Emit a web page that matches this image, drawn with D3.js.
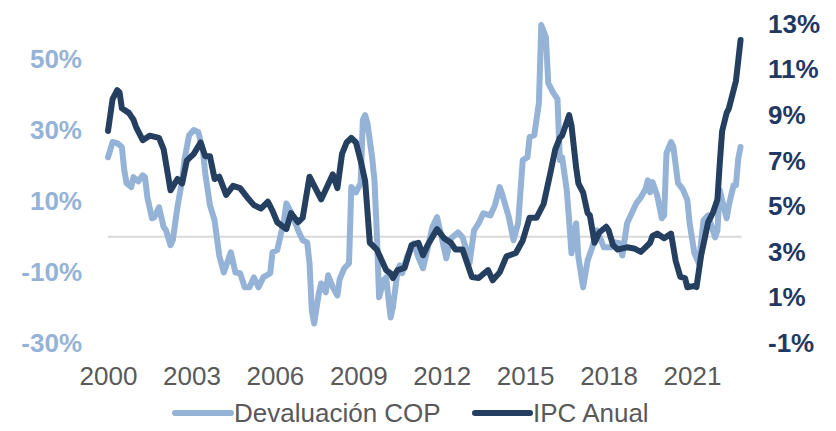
<!DOCTYPE html>
<html>
<head>
<meta charset="utf-8">
<script src="https://cdn.jsdelivr.net/npm/d3@7"></script>
<style>
  html, body { margin: 0; padding: 0; background: #fff; }
  svg { display: block; }
</style>
</head>
<body>
<svg id="chart" width="836" height="431"></svg>
<script>
// ---------- DATA ----------
const seriesNames = ["Devaluación COP", "IPC Anual"];

const devDates = ["2000-01","2000-03","2000-05","2000-07","2000-08","2000-09","2000-11","2000-12","2001-02","2001-04","2001-05","2001-06","2001-08","2001-09","2001-11","2002-01","2002-02","2002-04","2002-05","2002-07","2002-09","2002-10","2002-12","2003-02","2003-04","2003-06","2003-07","2003-09","2003-11","2004-01","2004-03","2004-06","2004-08","2004-10","2004-12","2005-02","2005-04","2005-06","2005-08","2005-11","2005-12","2006-02","2006-05","2006-06","2006-08","2006-11","2007-01","2007-03","2007-04","2007-05","2007-06","2007-08","2007-09","2007-11","2007-12","2008-02","2008-04","2008-05","2008-07","2008-09","2008-10","2008-12","2009-02","2009-03","2009-04","2009-05","2009-07","2009-08","2009-09","2009-10","2009-12","2010-01","2010-03","2010-04","2010-06","2010-07","2010-08","2010-10","2011-01","2011-03","2011-05","2011-07","2011-09","2011-11","2012-01","2012-03","2012-05","2012-08","2012-10","2012-12","2013-01","2013-03","2013-05","2013-07","2013-10","2013-12","2014-02","2014-03","2014-06","2014-08","2014-10","2014-12","2015-02","2015-03","2015-05","2015-07","2015-08","2015-10","2015-11","2016-01","2016-03","2016-04","2016-05","2016-07","2016-08","2016-09","2016-11","2016-12","2017-02","2017-04","2017-06","2017-08","2017-11","2018-02","2018-04","2018-06","2018-07","2018-09","2018-11","2019-01","2019-03","2019-05","2019-06","2019-07","2019-08","2019-10","2019-12","2020-01","2020-02","2020-04","2020-05","2020-07","2020-09","2020-11","2020-12","2021-02","2021-04","2021-06","2021-08","2021-11","2021-12","2022-01","2022-02","2022-04","2022-05","2022-07","2022-08","2022-09","2022-10"];
const devValues = [22.4,26.7,26.4,25.3,18.8,15.1,14.0,16.8,15.6,17.3,16.8,11.1,5.2,5.5,8.3,2.7,1.8,-2.4,-1.0,8.3,15.9,21.6,28.6,30.1,29.5,24.4,17.9,8.9,4.6,-5.3,-10.1,-4.4,-10.1,-10.3,-14.3,-14.3,-11.5,-14.3,-11.5,-10.3,-4.4,-3.8,4.6,9.4,6.9,1.8,-1.0,-1.6,-7.5,-20.8,-24.5,-16.0,-13.2,-15.7,-10.9,-14.3,-16.6,-12.0,-8.9,-7.5,14.0,12.5,15.1,32.9,34.3,32.0,22.4,15.9,1.0,-17.1,-12.3,-11.5,-22.8,-19.9,-9.5,-8.1,-10.3,-5.8,-1.9,-5.8,-8.9,-3.3,2.7,5.5,-0.2,-6.1,-0.5,1.2,-0.2,-4.4,-7.5,1.8,3.8,6.6,6.0,8.9,14.0,12.3,5.5,-1.0,3.8,21.6,22.4,28.1,28.6,37.7,59.7,56.3,43.3,40.8,38.8,21.6,22.4,13.1,4.6,-4.7,3.8,-5.8,-14.3,-6.7,-3.0,1.8,-3.0,-3.0,-1.6,-1.9,-5.3,3.8,6.6,9.4,11.1,13.4,15.9,12.5,15.4,11.7,5.2,6.0,23.6,26.7,25.3,15.1,13.4,10.3,3.8,-4.7,-7.5,4.6,6.0,-0.2,1.8,13.1,10.3,5.2,8.9,14.5,14.5,22.1,25.3];

const ipcDates = ["2000-01","2000-03","2000-05","2000-06","2000-07","2000-10","2000-12","2001-01","2001-04","2001-07","2001-11","2002-01","2002-04","2002-07","2002-09","2002-11","2003-02","2003-05","2003-07","2003-09","2003-11","2004-01","2004-04","2004-07","2004-10","2005-01","2005-04","2005-07","2005-10","2005-12","2006-02","2006-06","2006-08","2006-11","2007-01","2007-04","2007-09","2008-02","2008-04","2008-06","2008-08","2008-10","2008-12","2009-02","2009-04","2009-06","2009-09","2010-01","2010-03","2010-04","2010-06","2010-09","2010-12","2011-03","2011-05","2011-07","2011-11","2012-02","2012-05","2012-07","2012-10","2013-02","2013-05","2013-09","2013-11","2014-02","2014-05","2014-09","2014-12","2015-03","2015-06","2015-09","2015-12","2016-02","2016-04","2016-05","2016-08","2016-09","2016-11","2016-12","2017-02","2017-04","2017-05","2017-07","2017-09","2017-12","2018-01","2018-03","2018-05","2018-07","2018-09","2018-12","2019-03","2019-05","2019-07","2019-08","2019-10","2020-01","2020-04","2020-06","2020-08","2020-10","2020-11","2021-02","2021-03","2021-05","2021-08","2021-10","2021-12","2022-01","2022-02","2022-04","2022-05","2022-08","2022-09","2022-10"];
const ipcValues = [8.3,9.7,10.1,10.0,9.3,9.1,8.8,8.5,7.9,8.1,8.0,7.5,5.7,6.2,6.0,7.0,7.3,7.8,7.2,7.2,6.2,6.3,5.5,5.9,5.8,5.4,5.05,4.9,5.2,4.8,4.3,4.0,4.7,4.3,4.5,6.3,5.3,6.4,5.8,7.3,7.8,8.0,7.8,7.0,6.1,3.4,3.1,2.2,2.05,1.85,2.2,2.3,3.3,3.4,2.85,3.3,4.0,3.6,3.4,3.1,3.1,1.9,1.85,2.2,1.75,2.1,2.8,2.95,3.5,4.5,4.5,5.1,6.5,7.5,8.0,8.1,9.0,8.55,6.7,6.0,5.6,4.7,4.6,3.4,3.85,4.1,3.95,3.3,3.1,3.15,3.2,3.15,3.0,3.2,3.4,3.7,3.8,3.6,3.8,2.6,1.9,1.85,1.45,1.5,1.45,2.85,4.3,4.7,5.3,6.9,8.3,9.1,9.3,10.5,11.4,12.3];

const yearTicks = [2000, 2003, 2006, 2009, 2012, 2015, 2018, 2021];
const leftTicks = [-30, -10, 10, 30, 50];
const rightTicks = [-1, 1, 3, 5, 7, 9, 11, 13];

// ---------- STYLE ----------
const lightColor = "#95b3d7";
const darkColor = "#243f60";
const rightTextColor = "#1f3864";
const grayText = "#595959";
const font = "'Liberation Sans', Arial, sans-serif";

const svg = d3.select("#chart");
const parse = d3.timeParse("%Y-%m");

const dev = devDates.map((d, i) => ({ date: parse(d), value: devValues[i] }));
const ipc = ipcDates.map((d, i) => ({ date: parse(d), value: ipcValues[i] }));

const x = d3.scaleTime()
  .domain([new Date(2000, 0, 1), new Date(2021, 0, 1)])
  .range([108, 692]);
const yL = d3.scaleLinear().domain([-30, 60]).range([343, 24]);
const yR = d3.scaleLinear().domain([-1, 13]).range([343, 24]);

// zero baseline
const lastDate = d3.max(ipc, d => d.date);
svg.append("line")
  .attr("x1", x(new Date(2000, 0, 1))).attr("x2", x(lastDate) + 1)
  .attr("y1", yL(0)).attr("y2", yL(0))
  .attr("stroke", "#d9d9d9").attr("stroke-width", 2);

// lines
const lineL = d3.line().x(d => x(d.date)).y(d => yL(d.value));
const lineR = d3.line().x(d => x(d.date)).y(d => yR(d.value));

svg.append("path").datum(dev)
  .attr("d", lineL).attr("fill", "none")
  .attr("stroke", lightColor).attr("stroke-width", 6)
  .attr("stroke-linejoin", "round").attr("stroke-linecap", "round");

svg.append("path").datum(ipc)
  .attr("d", lineR).attr("fill", "none")
  .attr("stroke", darkColor).attr("stroke-width", 6)
  .attr("stroke-linejoin", "round").attr("stroke-linecap", "round");

// axes
const gL = svg.append("g").attr("transform", "translate(82,0)")
  .call(d3.axisLeft(yL).tickValues(leftTicks).tickSize(0).tickPadding(0).tickFormat(d => d + "%"));
gL.select(".domain").remove();
gL.selectAll("text").attr("fill", lightColor).style("font", "bold 26px " + font);

const gR = svg.append("g").attr("transform", "translate(768,0)")
  .call(d3.axisRight(yR).tickValues(rightTicks).tickSize(0).tickPadding(0).tickFormat(d => d + "%"));
gR.select(".domain").remove();
gR.selectAll("text").attr("fill", rightTextColor).style("font", "bold 26px " + font);

const gB = svg.append("g").attr("transform", "translate(0,367)")
  .call(d3.axisBottom(x).tickValues(yearTicks.map(y => new Date(y, 0, 1))).tickSize(0).tickPadding(0).tickFormat(d3.timeFormat("%Y")));
gB.select(".domain").remove();
gB.selectAll("text").attr("fill", grayText).style("font", "26px " + font);

// legend
const legend = [
  { name: seriesNames[0], color: lightColor, x1: 175, x2: 231 },
  { name: seriesNames[1], color: darkColor, x1: 475, x2: 530 }
];
const lg = svg.append("g");
legend.forEach(l => {
  lg.append("line").attr("x1", l.x1).attr("x2", l.x2).attr("y1", 413).attr("y2", 413)
    .attr("stroke", l.color).attr("stroke-width", 6).attr("stroke-linecap", "round");
  lg.append("text").attr("x", l.x2 + 3).attr("y", 413).attr("dy", "0.35em")
    .attr("fill", grayText).style("font", "26px " + font).text(l.name);
});
</script>
</body>
</html>
